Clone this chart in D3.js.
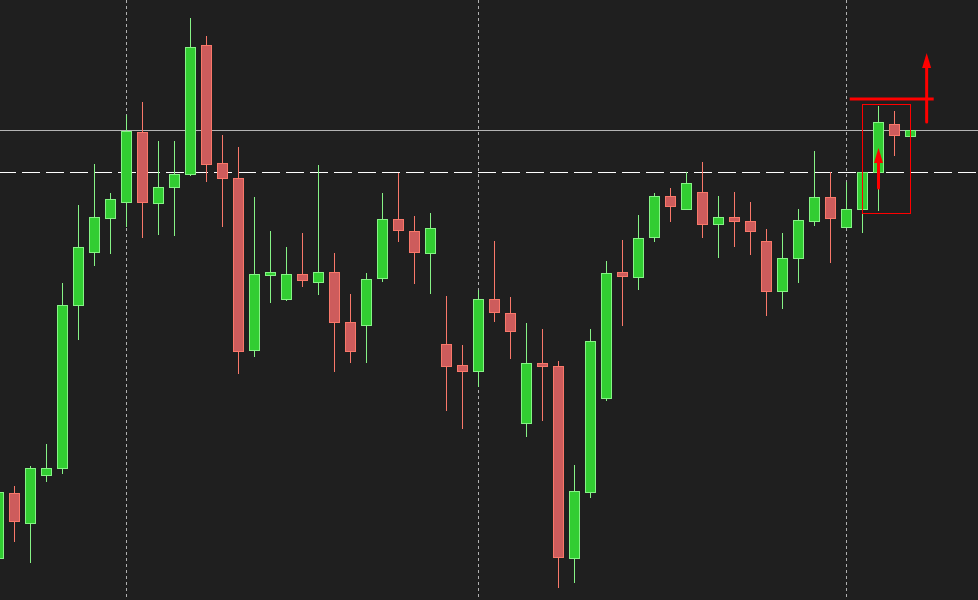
<html>
<head>
  <script src="https://d3js.org/d3.v7.min.js"></script>
  <style>
    body { margin: 0; background: #1f1f1f; }
    .wick { stroke-width: 1px; }
    .level { stroke: #b4b4b4; stroke-width: 1px; }
    .dashlevel { stroke: #ffffff; stroke-width: 1.2px; stroke-dasharray: 18 6; }
    .vgrid { stroke: #b0b0b0; stroke-width: 1px; stroke-dasharray: 3 3; }
  </style>
</head>
<body>
  <svg id="chart" width="978" height="600"></svg>
  <script>
    // candle prices (arbitrary units)
    const opens  = [42,107,77,125,132,295,348,382,398,468,397,413,426,555,437,422,250,325,301,326,318,328,278,275,322,381,369,347,256,235,229,301,287,177,237,234,42,108,202,328,323,363,404,391,408,376,383,379,359,309,342,379,403,373,391,428,476,464];
    const highs  = [111,114,134,156,317,395,436,407,485,498,459,459,582,564,465,453,403,369,353,367,435,347,306,327,407,427,384,387,304,255,310,359,303,277,271,239,135,271,339,360,385,407,412,428,438,404,408,398,371,367,391,449,428,418,428,494,489,470];
    const lows   = [40,58,37,118,126,260,334,346,373,362,365,364,424,418,373,226,243,297,299,313,305,228,237,237,318,358,316,306,189,171,213,278,241,163,179,12,17,102,199,274,310,358,378,390,362,342,353,345,284,291,317,374,337,373,367,389,444,464];
    const closes = [108,79,132,132,295,353,383,401,469,398,413,426,553,436,422,249,326,328,326,320,328,278,249,321,381,370,348,372,234,229,301,288,269,237,234,43,109,259,327,324,362,404,394,417,376,383,379,369,309,342,380,403,382,391,428,478,465,470];

    const resistance = 470;      // solid grey level
    const support = 428;         // dashed white level
    const sessionBreaks = [8, 30, 53];

    // hand-drawn annotations
    const markLine = { i0: 53.2, i1: 58.45, price: 501 };
    const markBox = { i0: 54, i1: 57, top: 496, bottom: 387 };
    const arrows = [
      { i: 55, from: 412, to: 452 },
      { i: 58.01, from: 478, to: 547 }
    ];

    const svg = d3.select("#chart");
    const width = +svg.attr("width");
    const height = +svg.attr("height");

    svg.append("rect").attr("width", width).attr("height", height).attr("fill", "#1f1f1f");

    const candles = opens.map((o, i) => ({ i, o, h: highs[i], l: lows[i], c: closes[i] }));

    const x = d3.scaleLinear().domain([0, 57]).range([-1.5, 910.5]);
    const y = d3.scaleLinear().domain([0, 600]).range([height, 0]);

    // vertical dotted separators
    svg.selectAll("line.vgrid").data(sessionBreaks).join("line")
      .attr("class", "vgrid")
      .attr("x1", d => x(d)).attr("x2", d => x(d))
      .attr("y1", 0).attr("y2", height);

    svg.append("line").attr("class", "level")
      .attr("x1", 0).attr("x2", width)
      .attr("y1", Math.round(y(resistance)) + 0.5).attr("y2", Math.round(y(resistance)) + 0.5);

    svg.append("line").attr("class", "dashlevel")
      .attr("x1", -2).attr("x2", width)
      .attr("y1", y(support) + 0.5).attr("y2", y(support) + 0.5);

    const up = d => d.c >= d.o;
    const g = svg.append("g");

    g.selectAll("line.wick").data(candles).join("line")
      .attr("class", "wick")
      .attr("x1", d => x(d.i)).attr("x2", d => x(d.i))
      .attr("y1", d => y(d.h)).attr("y2", d => y(d.l))
      .attr("stroke", d => up(d) ? "#86f386" : "#f9786a");

    g.selectAll("rect.body").data(candles).join("rect")
      .attr("class", "body")
      .attr("x", d => x(d.i) - 5)
      .attr("width", 10)
      .attr("y", d => y(Math.max(d.o, d.c)) + 0.5)
      .attr("height", d => Math.max(1, Math.abs(y(d.o) - y(d.c))))
      .attr("fill", d => up(d) ? "#32cd32" : "#cd5c5c")
      .attr("stroke", d => up(d) ? "#86f386" : "#f9786a")
      .attr("stroke-width", 1);

    // annotations
    const ann = svg.append("g").attr("fill", "none").attr("stroke", "#ff0000");

    ann.append("rect")
      .attr("x", x(markBox.i0))
      .attr("y", y(markBox.top) + 0.5)
      .attr("width", x(markBox.i1) - x(markBox.i0))
      .attr("height", y(markBox.bottom) - y(markBox.top))
      .attr("stroke-width", 1);

    ann.append("line")
      .attr("x1", x(markLine.i0)).attr("x2", x(markLine.i1))
      .attr("y1", y(markLine.price)).attr("y2", y(markLine.price))
      .attr("stroke-width", 3);

    arrows.forEach(a => {
      const ax = x(a.i);
      const tip = y(a.to);
      ann.append("line")
        .attr("x1", ax).attr("x2", ax)
        .attr("y1", y(a.from)).attr("y2", tip + 12)
        .attr("stroke-width", 3)
        .attr("stroke-linecap", "round");
      ann.append("path")
        .attr("d", `M${ax},${tip} L${ax - 4.5},${tip + 15} L${ax + 4.5},${tip + 15} Z`)
        .attr("fill", "#ff0000")
        .attr("stroke", "none");
    });
  </script>
</body>
</html>
